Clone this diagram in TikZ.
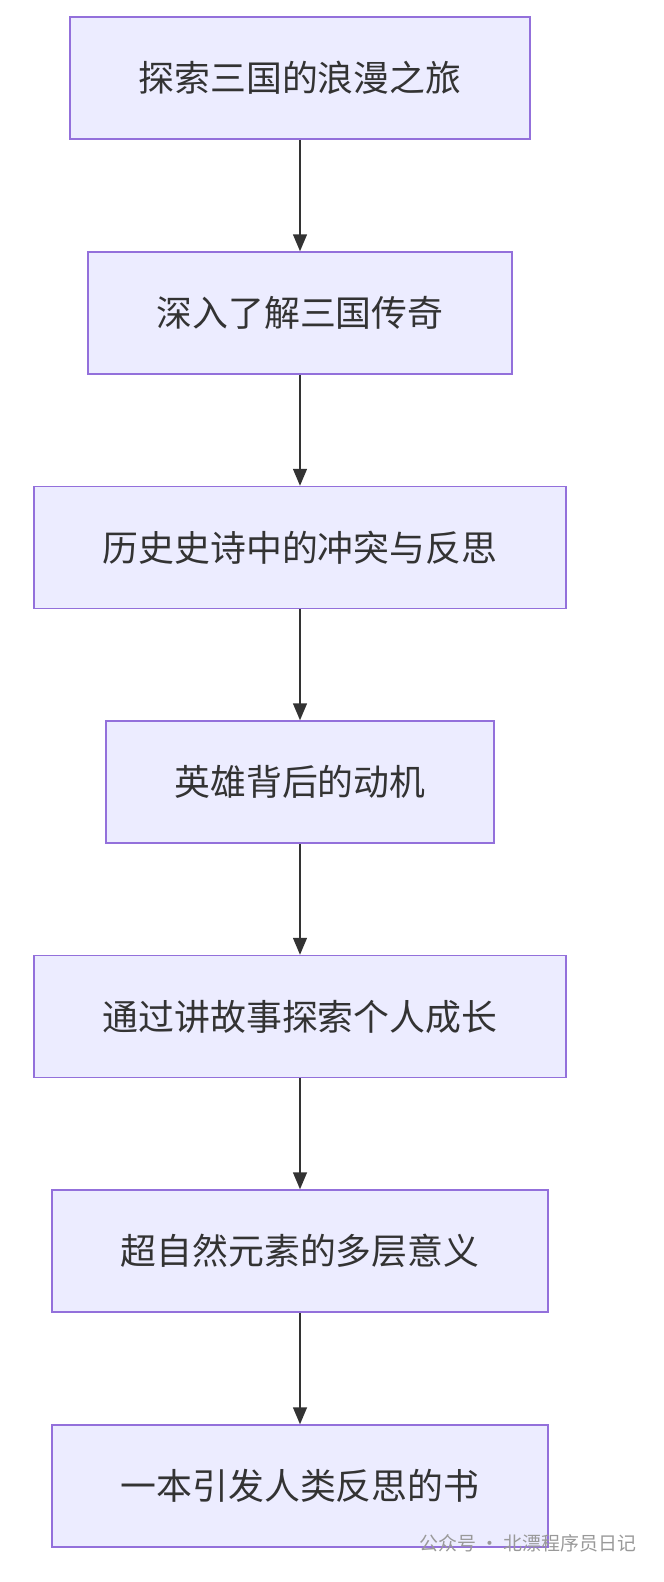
\documentclass[tikz,border=0pt]{standalone}
\usepackage{fontspec}
\newfontfamily\cjk{Noto Sans CJK SC}
\usetikzlibrary{arrows.meta}
\definecolor{boxfill}{HTML}{ECECFF}
\definecolor{boxline}{HTML}{9370DB}
\definecolor{arr}{HTML}{333333}
\begin{document}
\begin{tikzpicture}[x=1bp,y=-1bp,
  box/.style={draw=boxline,fill=boxfill,line width=1.5bp,minimum height=122bp,inner sep=0pt,font=\cjk\fontsize{36}{40}\selectfont,text=arr},
  link/.style={draw=arr,line width=1.5bp,-{Triangle[length=17bp,width=14bp]}}]
\useasboundingbox (0,0) rectangle (664,1582);
\node[box,minimum width=460bp] (a) at (300,78) {探索三国的浪漫之旅};
\node[box,minimum width=424bp] (b) at (300,313) {深入了解三国传奇};
\node[box,minimum width=532bp] (c) at (300,547.5) {历史史诗中的冲突与反思};
\node[box,minimum width=388bp] (d) at (300,782) {英雄背后的动机};
\node[box,minimum width=532bp] (e) at (300,1016.5) {通过讲故事探索个人成长};
\node[box,minimum width=496bp] (f) at (300,1251) {超自然元素的多层意义};
\node[box,minimum width=496bp] (g) at (300,1486) {一本引发人类反思的书};
\draw[link] (a) -- (b);
\draw[link] (b) -- (c);
\draw[link] (c) -- (d);
\draw[link] (d) -- (e);
\draw[link] (e) -- (f);
\draw[link] (f) -- (g);
\node[anchor=east,text=gray!80,font=\cjk\fontsize{19}{22}\selectfont] (w) at (640,1543) {公众号 · 北漂程序员日记};
\end{tikzpicture}
\end{document}
